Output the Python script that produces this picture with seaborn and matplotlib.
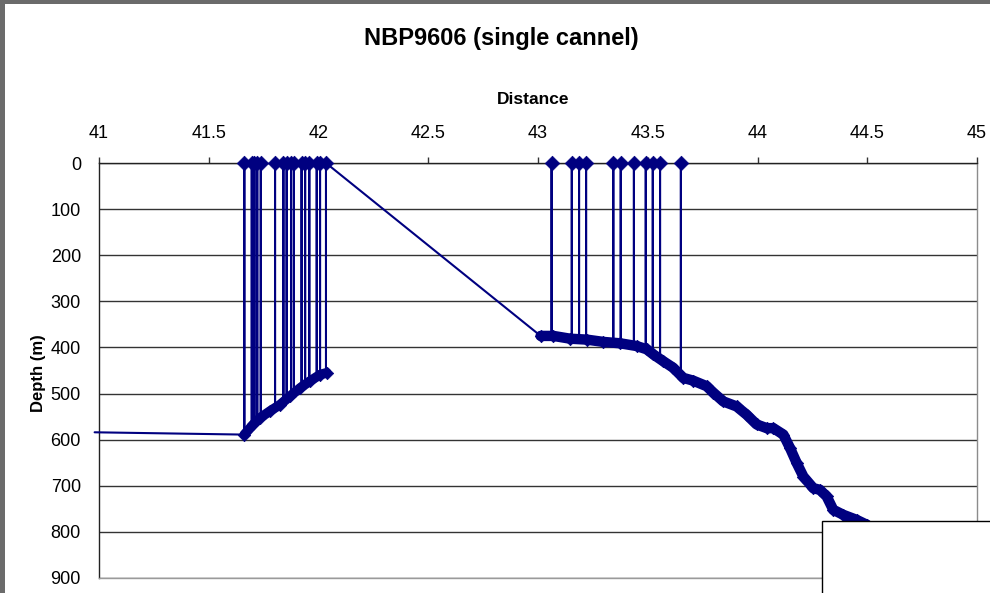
import matplotlib
matplotlib.use("Agg")
import matplotlib.pyplot as plt
from matplotlib.patches import Rectangle
import numpy as np
import pandas as pd
import seaborn as sns

# ---------------- data ----------------
title = "NBP9606 (single cannel)"
x_label = "Distance"
y_label = "Depth (m)"
x_ticks = [41, 41.5, 42, 42.5, 43, 43.5, 44, 44.5, 45]
x_tick_labels = ["41", "41.5", "42", "42.5", "43", "43.5", "44", "44.5", "45"]
y_ticks = [0, 100, 200, 300, 400, 500, 600, 700, 800, 900]

# lead-in segment from the left
lead_x = [40.98, 41.662]
lead_d = [584, 589]

# seafloor profile, first section
sea1_x = [41.662, 41.703, 41.733, 41.779, 41.825, 41.870, 41.916, 41.961, 42.007, 42.037]
sea1_d = [589, 567, 553, 538, 524, 506, 488, 473, 459, 455]

# stations (spikes to the surface), first section: x and seafloor depth
spk1_x = [41.662, 41.696, 41.708, 41.721, 41.737, 41.802, 41.840, 41.855, 41.875,
          41.888, 41.923, 41.939, 41.958, 41.992, 42.007, 42.034]
spk1_d = [589, 570, 564, 559, 551, 533, 521, 516, 508, 503, 490, 484, 477, 466, 459, 455]

# seafloor profile, second section
sea2_x = [43.012, 43.070, 43.146, 43.222, 43.298, 43.374, 43.450, 43.495, 43.525, 43.571,
          43.616, 43.662, 43.707, 43.768, 43.799, 43.844, 43.905, 43.951, 43.996, 44.042,
          44.072, 44.118, 44.148, 44.179, 44.209, 44.254, 44.285, 44.315, 44.345, 44.391,
          44.452, 44.500]
sea2_d = [375, 375, 381, 383, 388, 391, 397, 404, 415, 430,
          444, 466, 472, 484, 498, 517, 528, 546, 567, 575,
          575, 589, 618, 651, 680, 705, 709, 723, 752, 763,
          774, 785]

# stations, second section
spk2_x = [43.062, 43.154, 43.187, 43.219, 43.343, 43.377, 43.437, 43.491, 43.523, 43.556, 43.651]
spk2_d = [375, 380, 382, 383, 390, 391, 396, 403, 414, 430, 458]

NAVY = "#000080"


def build_path(sx, sd, kx, kd, end_at_surface):
    """Merge seafloor knots and surface spikes in x order into one path."""
    events = [(x, 0, d) for x, d in zip(sx, sd)] + [(x, 1, d) for x, d in zip(kx, kd)]
    events.sort(key=lambda e: (e[0], e[1]))
    px, pd_ = [], []
    last_spike = max(kx)
    for x, kind, d in events:
        if kind == 0:
            px.append(x); pd_.append(d)
        else:
            px += [x, x]; pd_ += [d, 0]
            if not (end_at_surface and x == last_spike):
                px.append(x); pd_.append(d)
    if end_at_surface:
        while pd_[-1] != 0:
            px.pop(); pd_.pop()
    return px, pd_


p1x, p1d = build_path(sea1_x, sea1_d, spk1_x, spk1_d, True)
p2x, p2d = build_path(sea2_x, sea2_d, spk2_x, spk2_d, False)

path = pd.DataFrame({
    "x": lead_x + p1x + p2x,
    "depth": lead_d + p1d + p2d,
})

tops = pd.DataFrame({
    "x": spk1_x + spk2_x,
    "depth": [0] * (len(spk1_x) + len(spk2_x)),
})
floor = pd.DataFrame({
    "x": sea1_x + sea2_x,
    "depth": sea1_d + sea2_d,
})

# ---------------- figure ----------------
sns.set_theme(style="white")
plt.rcParams["font.family"] = ["Liberation Sans", "DejaVu Sans"]
plt.rcParams["text.color"] = "black"
plt.rcParams["axes.labelcolor"] = "black"

fig = plt.figure(figsize=(9.9, 5.93), dpi=100)
fig.patch.set_facecolor("white")
ax = fig.add_axes([99 / 990, 1 - 578 / 593, 878 / 990, 415 / 593])
ax.set_facecolor("white")

# thick seafloor bands (dense markers in the original)
ax.plot(sea1_x, sea1_d, color=NAVY, lw=7, solid_capstyle="round",
        solid_joinstyle="round", zorder=3)
ax.plot(sea2_x, sea2_d, color=NAVY, lw=7.5, solid_capstyle="round",
        solid_joinstyle="round", zorder=3)

# connected series line
sns.lineplot(data=path, x="x", y="depth", sort=False, estimator=None,
             color=NAVY, lw=1.5, ax=ax, zorder=4)
for ln in ax.get_lines():
    ln.set_clip_on(False)

# diamond markers
sns.scatterplot(data=tops, x="x", y="depth", marker="D", s=55, color=NAVY,
                edgecolor=NAVY, linewidth=0.5, ax=ax, zorder=5, clip_on=False)
sns.scatterplot(data=floor, x="x", y="depth", marker="D", s=40, color=NAVY,
                edgecolor=NAVY, linewidth=0.5, ax=ax, zorder=5, clip_on=False)

ax.set_xlim(41, 45)
ax.set_ylim(900, 0)
ax.set_xticks(x_ticks)
ax.set_xticklabels(x_tick_labels)
ax.set_yticks(y_ticks)
ax.set_yticklabels([str(v) for v in y_ticks])
ax.xaxis.tick_top()
ax.xaxis.set_label_position("top")

ax.tick_params(axis="x", which="major", direction="out", length=4, width=1,
               color="#333333", pad=11, labelsize=13, labelcolor="black")
ax.tick_params(axis="y", which="major", direction="out", length=4, width=1,
               color="#333333", pad=9, labelsize=13, labelcolor="black")

ax.yaxis.grid(True, color="#333333", lw=1)
ax.xaxis.grid(False)
ax.set_axisbelow(True)

ax.spines["top"].set_color("#222222")
ax.spines["left"].set_color("#222222")
ax.spines["right"].set_color("#8c8c8c")
ax.spines["bottom"].set_color("#9a9a9a")
for s in ax.spines.values():
    s.set_linewidth(1)

ax.set_xlabel(x_label, fontsize=12.5, fontweight="bold")
ax.set_ylabel(y_label, fontsize=12, fontweight="bold")
ax.xaxis.set_label_coords((533 - 99) / 878, 1 + (163 - 100) / 415)
ax.xaxis.label.set_va("center")
ax.yaxis.set_label_coords((38 - 99) / 878, (578 - 373) / 415)
ax.yaxis.label.set_va("center")

fig.text(501 / 990, 1 - 38 / 593, title, ha="center", va="center",
         fontsize=17, fontweight="bold")

# window border (dark grey) on top and left
fig.patches.append(Rectangle((0, 1 - 4 / 593), 1, 4 / 593, transform=fig.transFigure,
                             facecolor="#6b6b6b", edgecolor="none", zorder=10))
fig.patches.append(Rectangle((0, 0), 5 / 990, 1, transform=fig.transFigure,
                             facecolor="#6b6b6b", edgecolor="none", zorder=10))

# legend box partly visible at bottom right
fig.patches.append(Rectangle((822 / 990, -0.1), 0.3, 0.1 + (593 - 521) / 593,
                             transform=fig.transFigure, facecolor="white",
                             edgecolor="black", lw=1, zorder=10))

fig.savefig("out.png", dpi=100)
